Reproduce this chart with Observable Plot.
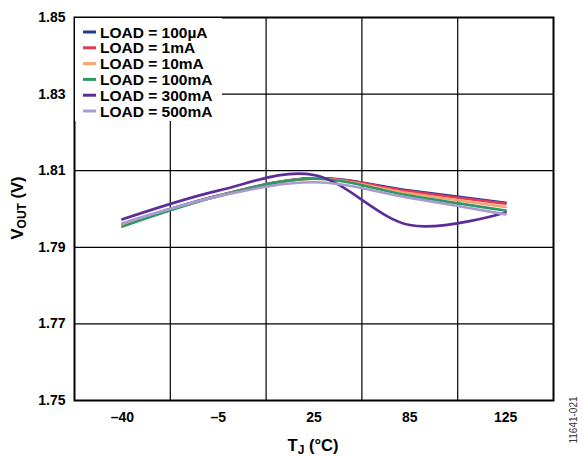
<!DOCTYPE html>
<html><head><meta charset="utf-8">
<script src="https://cdn.jsdelivr.net/npm/d3@7"></script>
<script src="https://cdn.jsdelivr.net/npm/@observablehq/plot@0.6"></script>
<style>body{margin:0;background:#fff}</style></head>
<body><div id="chart"></div>
<script>
const temps = ["–40", "–5", "25", "85", "125"];
const loads = ["LOAD = 100µA", "LOAD = 1mA", "LOAD = 10mA", "LOAD = 100mA", "LOAD = 300mA", "LOAD = 500mA"];
const colors = ["#1c3d8c", "#e8365a", "#f8a46c", "#2e9868", "#5a2d98", "#a89ccf"];
const v100uA = [1.7960, 1.8035, 1.8081, 1.8048, 1.8016];
const v1mA   = [1.7958, 1.8034, 1.8080, 1.8046, 1.8014];
const v10mA  = [1.7957, 1.8034, 1.8079, 1.8041, 1.8005];
const v100mA = [1.7954, 1.8033, 1.8079, 1.8035, 1.7996];
const v300mA = [1.7973, 1.8048, 1.8089, 1.7958, 1.7991];
const v500mA = [1.7963, 1.8033, 1.8070, 1.8029, 1.7986];
const yTicks = [1.75, 1.77, 1.79, 1.81, 1.83, 1.85];
const gridY = [1.77, 1.79, 1.81, 1.83];
const gridX = [0.5, 1.5, 2.5, 3.5];

const series = [v100uA, v1mA, v10mA, v100mA, v300mA, v500mA];
const data = loads.flatMap((load, i) => series[i].map((v, j) => ({load, x: j, v})));

const plot = Plot.plot({
  width: 582, height: 456,
  marginLeft: 74, marginRight: 29, marginTop: 17, marginBottom: 56,
  style: {fontFamily: "'Liberation Sans', Arial, sans-serif", fontSize: "14px", fontWeight: "bold", color: "#000", background: "#fff"},
  x: {domain: [-0.5, 4.5]},
  y: {domain: [1.75, 1.85]},
  color: {domain: loads, range: colors},
  marks: [
    Plot.ruleX(gridX, {stroke: "#000", strokeWidth: 1.2}),
    Plot.ruleY(gridY, {stroke: "#000", strokeWidth: 1.2}),
    Plot.line(data, {x: "x", y: "v", stroke: "load", z: "load", curve: "cardinal", tension: 0, strokeWidth: 2.6}),
    Plot.frame({stroke: "#000", strokeWidth: 2}),
    Plot.axisX([0, 1, 2, 3, 4], {tickSize: 0, tickPadding: 12, tickFormat: i => temps[i], label: null, fontWeight: "bold"}),
    Plot.axisY(yTicks, {tickSize: 0, tickPadding: 9, tickFormat: d3.format(".2f"), label: null, fontWeight: "bold"})
  ]
});
document.getElementById("chart").append(plot);

const svg = d3.select(plot);
const font = "'Liberation Sans', Arial, sans-serif";
// legend
const lg = svg.append("g").attr("font-family", font).attr("font-size", 15.5).attr("font-weight", "bold").attr("text-anchor", "start");
lg.append("rect").attr("x", 75).attr("y", 18).attr("width", 147).attr("height", 103).attr("fill", "#fff");
loads.forEach((l, i) => {
  const y = 32 + i * 15.8;
  lg.append("line").attr("x1", 83).attr("x2", 96).attr("y1", y).attr("y2", y).attr("stroke", colors[i]).attr("stroke-width", 3);
  lg.append("text").attr("x", 100).attr("y", y).attr("dy", "0.36em").attr("fill", "#000").text(l);
});
// y title
const yt = svg.append("text").attr("transform", "translate(23,208) rotate(-90)").attr("text-anchor", "middle")
  .attr("font-family", font).attr("font-size", 16.5).attr("font-weight", "bold").attr("fill", "#000");
yt.append("tspan").text("V");
yt.append("tspan").attr("font-size", 12).attr("dy", 3).text("OUT");
yt.append("tspan").attr("dy", -3).text(" (V)");
// x title
const xt = svg.append("text").attr("x", 313).attr("y", 451).attr("text-anchor", "middle")
  .attr("font-family", font).attr("font-size", 16.5).attr("font-weight", "bold").attr("fill", "#000");
xt.append("tspan").text("T");
xt.append("tspan").attr("font-size", 12).attr("dy", 3).text("J");
xt.append("tspan").attr("dy", -3).text(" (°C)");
// side id
svg.append("text").attr("transform", "translate(577,420) rotate(-90)").attr("text-anchor", "middle")
  .attr("font-family", font).attr("font-size", 10).attr("font-weight", "normal").attr("fill", "#333").text("11641-021");
</script>
</body></html>
